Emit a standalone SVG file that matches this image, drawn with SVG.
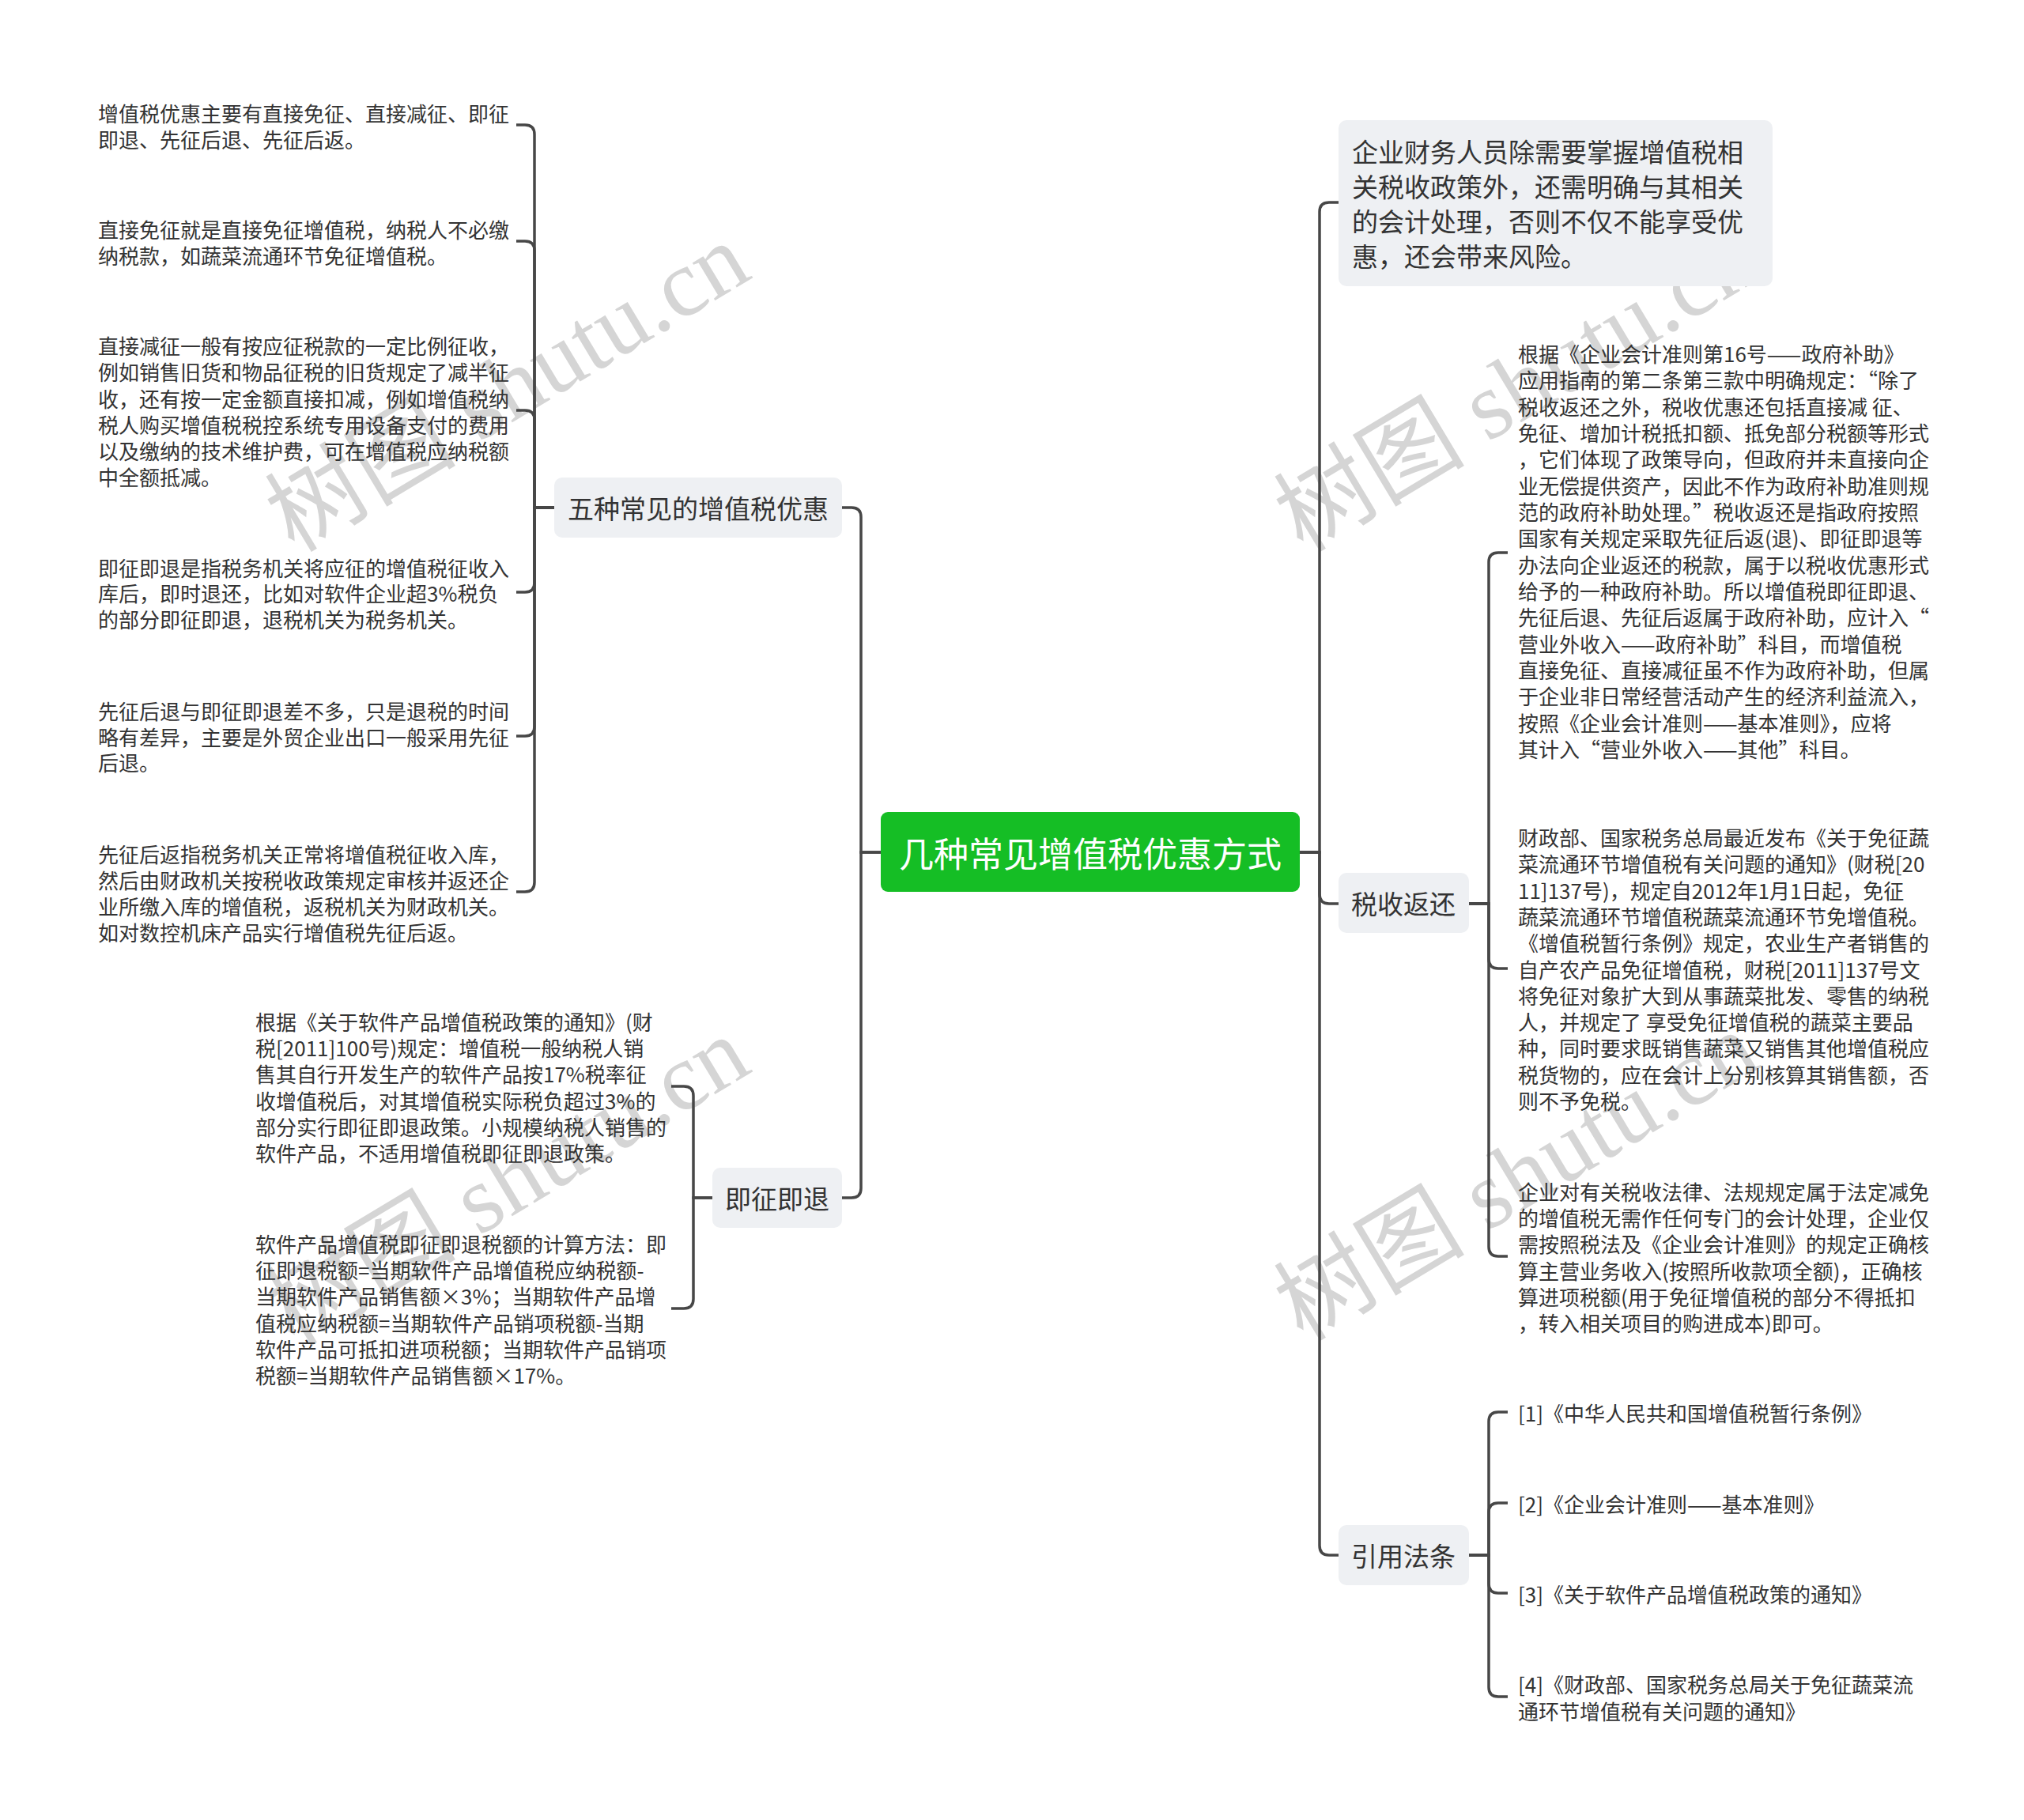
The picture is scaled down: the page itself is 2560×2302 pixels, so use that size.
<svg xmlns="http://www.w3.org/2000/svg" width="2560" height="2302" viewBox="0 0 2560 2302">
<style>
.t{font-family:"Noto Sans CJK SC","Noto Sans",sans-serif;font-size:26px;fill:#333;dominant-baseline:central}
.l1{font-size:33px}
.rt{font-family:"Noto Sans CJK SC","Noto Sans",sans-serif;font-size:44px;fill:#fff;dominant-baseline:central}
.c{fill:none;stroke:#474747;stroke-width:3.5}
.n{fill:#eef0f3}
.wm{font-family:"Liberation Serif","Noto Sans CJK SC",serif;font-size:121px;fill:#d5d5d5}
</style>
<rect width="2560" height="2302" fill="#fff"/>
<g id="watermarks">
<text class="wm" transform="translate(372,700) rotate(-31)">树图 shutu.cn</text>
<text class="wm" transform="translate(1648,700) rotate(-31)">树图 shutu.cn</text>
<text class="wm" transform="translate(372,1704) rotate(-31)">树图 shutu.cn</text>
<text class="wm" transform="translate(1648,1698) rotate(-31)">树图 shutu.cn</text>
</g>
<g id="connectors">
<path class="c" d="M1115,1078 H1089 V654 Q1089,642 1077,642 H1065"/>
<path class="c" d="M1115,1078 H1089 V1503 Q1089,1515 1077,1515 H1065"/>
<path class="c" d="M1644,1078 H1669 V268 Q1669,256 1681,256 H1693"/>
<path class="c" d="M1644,1078 H1669 V1131 Q1669,1143 1681,1143 H1693"/>
<path class="c" d="M1644,1078 H1669 V1955 Q1669,1967 1681,1967 H1693"/>
<path class="c" d="M702,642 H676 V170 Q676,158 664,158 H653"/>
<path class="c" d="M702,642 H676 V317 Q676,305 664,305 H653"/>
<path class="c" d="M702,642 H676 V531 Q676,519 664,519 H653"/>
<path class="c" d="M702,642 H676 V737 Q676,749 664,749 H653"/>
<path class="c" d="M702,642 H676 V919 Q676,931 664,931 H653"/>
<path class="c" d="M702,642 H676 V1116 Q676,1128 664,1128 H653"/>
<path class="c" d="M901,1515 H877 V1386 Q877,1374 865,1374 H849"/>
<path class="c" d="M901,1515 H877 V1643 Q877,1655 865,1655 H849"/>
<path class="c" d="M1858,1143 H1883 V711 Q1883,699 1895,699 H1907"/>
<path class="c" d="M1858,1143 H1883 V1213 Q1883,1225 1895,1225 H1907"/>
<path class="c" d="M1858,1143 H1883 V1577 Q1883,1589 1895,1589 H1907"/>
<path class="c" d="M1858,1967 H1883 V1798 Q1883,1786 1895,1786 H1907"/>
<path class="c" d="M1858,1967 H1883 V1913 Q1883,1901 1895,1901 H1907"/>
<path class="c" d="M1858,1967 H1883 V2003 Q1883,2015 1895,2015 H1907"/>
<path class="c" d="M1858,1967 H1883 V2134 Q1883,2146 1895,2146 H1907"/>
</g>
<g id="root">
<rect x="1114" y="1027" width="530" height="101" rx="9" fill="#15be25"/>
<text class="rt" x="1379" y="1078" text-anchor="middle">几种常见增值税优惠方式</text>
</g>
<g id="n-five">
<rect class="n" x="701" y="604" width="364" height="76" rx="10"/>
<text class="t l1" x="883" y="642" text-anchor="middle">五种常见的增值税优惠</text>
</g>
<g id="n-jzjt">
<rect class="n" x="901" y="1477" width="164" height="76" rx="10"/>
<text class="t l1" x="983" y="1515" text-anchor="middle">即征即退</text>
</g>
<g id="n-intro">
<rect class="n" x="1693" y="152" width="549" height="210" rx="10"/>
<text class="t l1" x="1710" y="191">企业财务人员除需要掌握增值税相</text>
<text class="t l1" x="1710" y="235">关税收政策外，还需明确与其相关</text>
<text class="t l1" x="1710" y="279">的会计处理，否则不仅不能享受优</text>
<text class="t l1" x="1710" y="323">惠，还会带来风险。</text>
</g>
<g id="n-sshh">
<rect class="n" x="1693" y="1104" width="165" height="76" rx="10"/>
<text class="t l1" x="1775" y="1142" text-anchor="middle">税收返还</text>
</g>
<g id="n-yyfl">
<rect class="n" x="1693" y="1929" width="165" height="76" rx="10"/>
<text class="t l1" x="1775" y="1967" text-anchor="middle">引用法条</text>
</g>
<g id="a1">
<text class="t" x="124" y="142">增值税优惠主要有直接免征、直接减征、即征</text>
<text class="t" x="124" y="175">即退、先征后退、先征后返。</text>
</g>
<g id="a2">
<text class="t" x="124" y="289">直接免征就是直接免征增值税，纳税人不必缴</text>
<text class="t" x="124" y="322">纳税款，如蔬菜流通环节免征增值税。</text>
</g>
<g id="a3">
<text class="t" x="124" y="436">直接减征一般有按应征税款的一定比例征收，</text>
<text class="t" x="124" y="469">例如销售旧货和物品征税的旧货规定了减半征</text>
<text class="t" x="124" y="503">收，还有按一定金额直接扣减，例如增值税纳</text>
<text class="t" x="124" y="536">税人购买增值税税控系统专用设备支付的费用</text>
<text class="t" x="124" y="569">以及缴纳的技术维护费，可在增值税应纳税额</text>
<text class="t" x="124" y="602">中全额抵减。</text>
</g>
<g id="a4">
<text class="t" x="124" y="717">即征即退是指税务机关将应征的增值税征收入</text>
<text class="t" x="124" y="749">库后，即时退还，比如对软件企业超3%税负</text>
<text class="t" x="124" y="782">的部分即征即退，退税机关为税务机关。</text>
</g>
<g id="a5">
<text class="t" x="124" y="898">先征后退与即征即退差不多，只是退税的时间</text>
<text class="t" x="124" y="931">略有差异，主要是外贸企业出口一般采用先征</text>
<text class="t" x="124" y="963">后退。</text>
</g>
<g id="a6">
<text class="t" x="124" y="1079">先征后返指税务机关正常将增值税征收入库，</text>
<text class="t" x="124" y="1112">然后由财政机关按税收政策规定审核并返还企</text>
<text class="t" x="124" y="1145">业所缴入库的增值税，返税机关为财政机关。</text>
<text class="t" x="124" y="1178">如对数控机床产品实行增值税先征后返。</text>
</g>
<g id="b1">
<text class="t" x="323" y="1291">根据《关于软件产品增值税政策的通知》(财</text>
<text class="t" x="323" y="1324">税[2011]100号)规定：增值税一般纳税人销</text>
<text class="t" x="323" y="1357">售其自行开发生产的软件产品按17%税率征</text>
<text class="t" x="323" y="1391">收增值税后，对其增值税实际税负超过3%的</text>
<text class="t" x="323" y="1424">部分实行即征即退政策。小规模纳税人销售的</text>
<text class="t" x="323" y="1457">软件产品，不适用增值税即征即退政策。</text>
</g>
<g id="b2">
<text class="t" x="323" y="1572">软件产品增值税即征即退税额的计算方法：即</text>
<text class="t" x="323" y="1605">征即退税额=当期软件产品增值税应纳税额-</text>
<text class="t" x="323" y="1638">当期软件产品销售额×3%；当期软件产品增</text>
<text class="t" x="323" y="1672">值税应纳税额=当期软件产品销项税额-当期</text>
<text class="t" x="323" y="1705">软件产品可抵扣进项税额；当期软件产品销项</text>
<text class="t" x="323" y="1738">税额=当期软件产品销售额×17%。</text>
</g>
<g id="c1">
<text class="t" x="1920" y="446">根据《企业会计准则第16号——政府补助》</text>
<text class="t" x="1920" y="479">应用指南的第二条第三款中明确规定：“除了</text>
<text class="t" x="1920" y="513">税收返还之外，税收优惠还包括直接减 征、</text>
<text class="t" x="1920" y="546">免征、增加计税抵扣额、抵免部分税额等形式</text>
<text class="t" x="1920" y="579">，它们体现了政策导向，但政府并未直接向企</text>
<text class="t" x="1920" y="613">业无偿提供资产，因此不作为政府补助准则规</text>
<text class="t" x="1920" y="646">范的政府补助处理。”税收返还是指政府按照</text>
<text class="t" x="1920" y="679">国家有关规定采取先征后返(退)、即征即退等</text>
<text class="t" x="1920" y="713">办法向企业返还的税款，属于以税收优惠形式</text>
<text class="t" x="1920" y="746">给予的一种政府补助。所以增值税即征即退、</text>
<text class="t" x="1920" y="779">先征后退、先征后返属于政府补助，应计入“</text>
<text class="t" x="1920" y="813">营业外收入——政府补助”科目，而增值税</text>
<text class="t" x="1920" y="846">直接免征、直接减征虽不作为政府补助，但属</text>
<text class="t" x="1920" y="879">于企业非日常经营活动产生的经济利益流入，</text>
<text class="t" x="1920" y="913">按照《企业会计准则——基本准则》，应将</text>
<text class="t" x="1920" y="946">其计入“营业外收入——其他”科目。</text>
</g>
<g id="c2">
<text class="t" x="1920" y="1058">财政部、国家税务总局最近发布《关于免征蔬</text>
<text class="t" x="1920" y="1091">菜流通环节增值税有关问题的通知》(财税[20</text>
<text class="t" x="1920" y="1125">11]137号)，规定自2012年1月1日起，免征</text>
<text class="t" x="1920" y="1158">蔬菜流通环节增值税蔬菜流通环节免增值税。</text>
<text class="t" x="1920" y="1191">《增值税暂行条例》规定，农业生产者销售的</text>
<text class="t" x="1920" y="1225">自产农产品免征增值税，财税[2011]137号文</text>
<text class="t" x="1920" y="1258">将免征对象扩大到从事蔬菜批发、零售的纳税</text>
<text class="t" x="1920" y="1291">人，并规定了 享受免征增值税的蔬菜主要品</text>
<text class="t" x="1920" y="1324">种，同时要求既销售蔬菜又销售其他增值税应</text>
<text class="t" x="1920" y="1358">税货物的，应在会计上分别核算其销售额，否</text>
<text class="t" x="1920" y="1391">则不予免税。</text>
</g>
<g id="c3">
<text class="t" x="1920" y="1506">企业对有关税收法律、法规规定属于法定减免</text>
<text class="t" x="1920" y="1539">的增值税无需作任何专门的会计处理，企业仅</text>
<text class="t" x="1920" y="1572">需按照税法及《企业会计准则》的规定正确核</text>
<text class="t" x="1920" y="1606">算主营业务收入(按照所收款项全额)，正确核</text>
<text class="t" x="1920" y="1639">算进项税额(用于免征增值税的部分不得抵扣</text>
<text class="t" x="1920" y="1672">，转入相关项目的购进成本)即可。</text>
</g>
<g id="d1"><text class="t" x="1920" y="1786">[1]《中华人民共和国增值税暂行条例》</text></g>
<g id="d2"><text class="t" x="1920" y="1901">[2]《企业会计准则——基本准则》</text></g>
<g id="d3"><text class="t" x="1920" y="2015">[3]《关于软件产品增值税政策的通知》</text></g>
<g id="d4">
<text class="t" x="1920" y="2129">[4]《财政部、国家税务总局关于免征蔬菜流</text>
<text class="t" x="1920" y="2163">通环节增值税有关问题的通知》</text>
</g>
</svg>
